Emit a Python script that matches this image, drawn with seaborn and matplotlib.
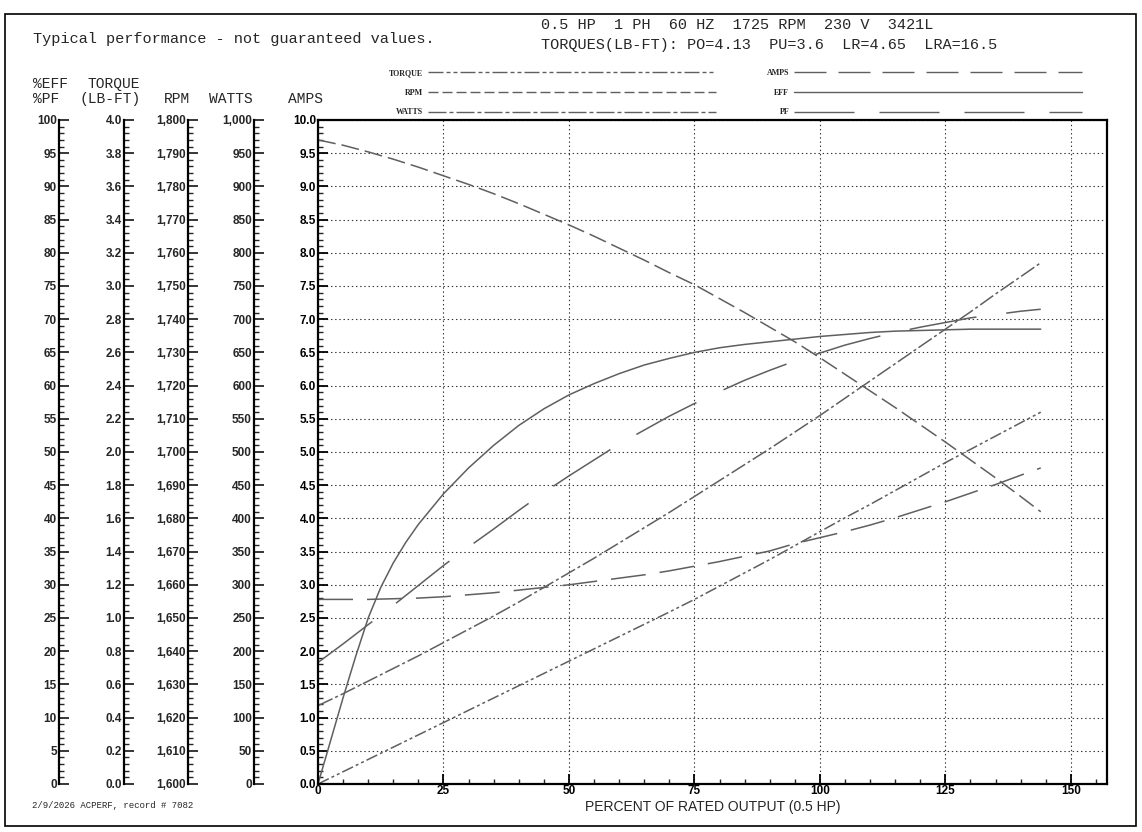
import matplotlib
matplotlib.use("Agg")
import matplotlib.pyplot as plt
import matplotlib.ticker as mticker
from matplotlib.lines import Line2D
from matplotlib.patches import Rectangle
import seaborn as sns

# ---------------- data (native units) ----------------
load_pct = [0, 5, 10, 15, 20, 25, 30, 35, 40, 45, 50, 55, 60, 65, 70, 75, 80, 85,
            90, 95, 100, 105, 110, 115, 120, 125, 130, 135, 140, 144]
rpm = [1794.0, 1792.4, 1790.4, 1788.2, 1785.8, 1783.2, 1780.6, 1777.8, 1774.8, 1771.6,
       1768.4, 1765.0, 1761.4, 1757.8, 1754.0, 1750.4, 1746.2, 1742.0, 1737.6, 1733.2,
       1728.4, 1723.4, 1718.4, 1713.4, 1708.2, 1703.0, 1697.6, 1692.2, 1686.6, 1682.0]
torque = [0.0, 0.074, 0.148, 0.222, 0.296, 0.370, 0.444, 0.518, 0.592, 0.666, 0.740,
          0.814, 0.888, 0.962, 1.036, 1.112, 1.192, 1.272, 1.352, 1.436, 1.520, 1.604,
          1.684, 1.768, 1.852, 1.936, 2.016, 2.096, 2.176, 2.240]
watts = [118, 136, 155, 174, 193, 213, 233, 253, 274, 296, 318, 340, 363, 386, 409,
         433, 457, 481, 505, 530, 555, 581, 607, 633, 659, 685, 711, 738, 764, 785]
amps = [2.78, 2.78, 2.78, 2.79, 2.80, 2.82, 2.85, 2.88, 2.92, 2.96, 3.00, 3.05, 3.10,
        3.15, 3.21, 3.28, 3.35, 3.43, 3.51, 3.62, 3.71, 3.80, 3.90, 4.01, 4.13, 4.25,
        4.38, 4.51, 4.65, 4.76]
pf = [18.3, 21.1, 24.0, 26.9, 29.9, 32.9, 35.7, 38.4, 41.2, 43.9, 46.4, 48.8, 51.2,
      53.3, 55.4, 57.3, 59.1, 60.8, 62.3, 63.7, 64.9, 66.1, 67.1, 68.0, 68.8, 69.5,
      70.2, 70.7, 71.2, 71.5]
eff_load_pct = [0, 2.5, 5, 7.5, 10, 12.5, 15, 17.5, 20, 25, 30, 35, 40, 45, 50, 55, 60,
                65, 70, 75, 80, 85, 90, 95, 100, 105, 110, 115, 120, 125, 130, 135, 140, 144]
eff = [0, 6.5, 13.0, 19.2, 25.0, 29.6, 33.3, 36.4, 39.1, 43.7, 47.6, 51.0, 54.0, 56.5,
       58.6, 60.3, 61.8, 63.1, 64.1, 65.0, 65.7, 66.2, 66.6, 67.0, 67.4, 67.7, 68.0,
       68.2, 68.3, 68.4, 68.5, 68.5, 68.5, 68.5]

x_ticks = [0, 25, 50, 75, 100, 125, 150]
header_left = "Typical performance - not guaranteed values."
header_r1 = "0.5 HP  1 PH  60 HZ  1725 RPM  230 V  3421L"
header_r2 = "TORQUES(LB-FT): PO=4.13  PU=3.6  LR=4.65  LRA=16.5"
footer = "2/9/2026 ACPERF, record # 7082"
xlabel = "PERCENT OF RATED OUTPUT (0.5 HP)"

# scale axes: (label, min, max, major step, minor step, formatter)
left_scales = [
    ("eff", 0, 100, 5, 1, lambda v, p: f"{v:.0f}"),
    ("torque", 0, 4.0, 0.2, 0.04, lambda v, p: f"{v:.1f}"),
    ("rpm", 1600, 1800, 10, 2, lambda v, p: f"{v:,.0f}"),
    ("watts", 0, 1000, 50, 10, lambda v, p: f"{v:,.0f}"),
]

# ---------------- style ----------------
sns.set_style("ticks")
plt.rcParams["font.family"] = ["Liberation Sans", "DejaVu Sans"]
plt.rcParams["lines.scale_dashes"] = False

W, H = 1142, 832
fig = plt.figure(figsize=(W / 100, H / 100), dpi=100)
fig.patch.set_facecolor("white")

def fx(px):
    return px / W

def fy(py):
    return 1 - py / H

ax_left, ax_right, ax_top, ax_bot = 318, 1107, 120, 784
rect = [fx(ax_left), fy(ax_bot), (ax_right - ax_left) / W, (ax_bot - ax_top) / H]
ax = fig.add_axes(rect)

LINE_C = "#5f5f5f"
TICK_FS = 8.5
TICK_W = "bold"
px = 0.72  # px -> pt

# mapping to the common 0-10 amps scale
def to_scale(vals, lo, hi):
    return [(v - lo) / (hi - lo) * 10 for v in vals]

series = [
    ("RPM", load_pct, to_scale(rpm, 1600, 1800), (0, (18 * px, 6 * px))),
    ("TORQUE", load_pct, to_scale(torque, 0, 4.0), (0, (12 * px, 3 * px, 3 * px, 3 * px, 3 * px, 3 * px))),
    ("WATTS", load_pct, to_scale(watts, 0, 1000), (0, (16 * px, 3 * px, 3 * px, 3 * px))),
    ("AMPS", load_pct, amps, (0, (35 * px, 14 * px))),
    ("PF", load_pct, to_scale(pf, 0, 100), (0, (68 * px, 30 * px))),
    ("EFF", eff_load_pct, to_scale(eff, 0, 100), "-"),
]
for name, xs, ys, ls in series:
    sns.lineplot(x=xs, y=ys, ax=ax, color=LINE_C, linewidth=1.1, linestyle=ls,
                 legend=False, sort=False)

ax.set_xlim(0, 157.2)
ax.set_ylim(0, 10)
ax.xaxis.set_major_locator(mticker.FixedLocator(x_ticks))
ax.xaxis.set_minor_locator(mticker.MultipleLocator(5))
ax.yaxis.set_major_locator(mticker.MultipleLocator(0.5))
ax.yaxis.set_minor_locator(mticker.MultipleLocator(0.1))
ax.yaxis.set_major_formatter(mticker.FormatStrFormatter("%.1f"))
ax.tick_params(axis="both", which="major", direction="in", length=7, width=1.3,
               labelsize=TICK_FS, pad=1.5, colors="black", left=True, bottom=True)
ax.tick_params(axis="both", which="minor", direction="in", length=3.5, width=1.0,
               left=True, bottom=True)
ax.tick_params(axis="x", which="major", pad=1)
ax.tick_params(axis="y", which="both", right=False)
ax.tick_params(axis="x", which="both", top=False)
for lab in ax.get_xticklabels() + ax.get_yticklabels():
    lab.set_fontweight(TICK_W)
ax.grid(True, which="major", color="#333333", linestyle=(0, (1, 2)), linewidth=0.8)
for s in ax.spines.values():
    s.set_visible(True)
    s.set_color("black")
    s.set_linewidth(1.6)
ax.set_xlabel(xlabel, fontsize=10, labelpad=2)
ax.set_ylabel("")

# ---------------- left scale axes ----------------
spine_x = [59, 124, 188, 254]
for (name, lo, hi, maj, mnr, fmt), sx in zip(left_scales, spine_x):
    a = fig.add_axes([fx(sx), rect[1], 0.0005, rect[3]])
    a.set_facecolor("none")
    a.set_ylim(lo, hi)
    a.set_xticks([])
    for k in ("top", "right", "bottom"):
        a.spines[k].set_visible(False)
    a.spines["left"].set_linewidth(1.6)
    a.spines["left"].set_color("black")
    a.yaxis.set_major_locator(mticker.MultipleLocator(maj))
    a.yaxis.set_minor_locator(mticker.MultipleLocator(mnr))
    a.yaxis.set_major_formatter(mticker.FuncFormatter(fmt))
    a.tick_params(axis="y", which="major", direction="in", length=7, width=1.3,
                  labelsize=TICK_FS, pad=1.5, left=True, right=False)
    a.tick_params(axis="y", which="minor", direction="in", length=3.5, width=1.0,
                  left=True, right=False)
    for lab in a.get_yticklabels():
        lab.set_fontweight(TICK_W)

# ---------------- legend ----------------
def h(ls):
    return Line2D([], [], color=LINE_C, linewidth=1.0, linestyle=ls)

leg_handles = [
    h((0, (15 * px, 3 * px, 4 * px, 3 * px, 4 * px, 3 * px))),
    h((0, (10 * px, 4 * px))),
    h((0, (18 * px, 3 * px, 4 * px, 3 * px))),
    h((0, (32 * px, 12 * px))),
    h("-"),
    h((0, (60 * px, 25 * px))),
]
leg_labels = ["TORQUE", "RPM", "WATTS", "AMPS", "EFF", "PF"]
fig.legend(leg_handles, leg_labels, ncol=2, loc="upper left",
           bbox_to_anchor=(fx(389), fy(69)), frameon=False, markerfirst=False,
           prop={"family": "Liberation Serif", "size": 5.8, "weight": "bold"},
           handlelength=35.8, handletextpad=0.55, columnspacing=6.3,
           labelspacing=1.45, borderpad=0, borderaxespad=0, handleheight=0.7)

# ---------------- texts ----------------
mono = "Liberation Mono"
fig.text(fx(33), fy(39), header_left, family=mono, fontsize=11, va="center", ha="left")
fig.text(fx(541), fy(25), header_r1, family=mono, fontsize=11, va="center", ha="left")
fig.text(fx(541), fy(45), header_r2, family=mono, fontsize=11, va="center", ha="left")
for txt, x, y in [("%EFF", 33, 84), ("TORQUE", 88, 84), ("%PF", 33, 99),
                  ("(LB-FT)", 79, 99), ("RPM", 164, 99), ("WATTS", 209, 99),
                  ("AMPS", 288, 99)]:
    fig.text(fx(x), fy(y), txt, family=mono, fontsize=10.5, va="center", ha="left")
fig.text(fx(32), fy(805), footer, family=mono, fontsize=6.5, va="center", ha="left")

# outer frame
fig.add_artist(Rectangle((fx(5), fy(826)), (1136 - 5) / W, (826 - 14) / H,
                         transform=fig.transFigure, fill=False, edgecolor="black",
                         linewidth=1.2))

fig.savefig("out.png", dpi=100, facecolor="white")
